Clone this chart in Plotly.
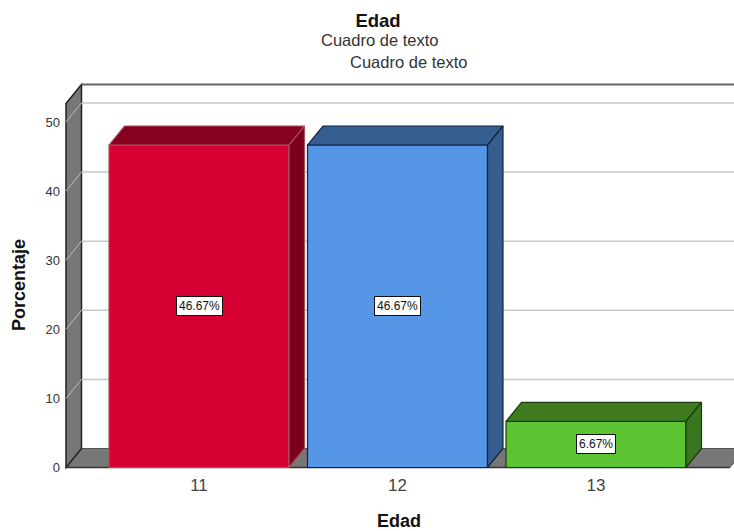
import plotly.graph_objects as go

categories = [11, 12, 13]
values = [46.67, 46.67, 6.67]
labels = ["46.67%", "46.67%", "6.67%"]
y_ticks = [0, 10, 20, 30, 40, 50]

front_colors = ["#D60032", "#5596E6", "#5CC433"]
top_colors = ["#87001E", "#355D90", "#3E7A20"]
side_colors = ["#7C001C", "#355D90", "#3A761F"]
edge_colors = ["#A8505F", "#14233A", "#1B3A0E"]

W, H = 734, 531
PL, PR, PT, PB = 64, 734, 83, 470
X_UNIT = 198.5
Y_UNIT = 6.91
X_ZERO_PX = 199.0   # pixel of category 11
Y_ZERO_PX = 467.5   # pixel of value 0

x_range = [11 + (PL - X_ZERO_PX) / X_UNIT, 11 + (PR - X_ZERO_PX) / X_UNIT]
y_range = [(Y_ZERO_PX - PB) / Y_UNIT, (Y_ZERO_PX - PT) / Y_UNIT]

BAR_W = 180 / X_UNIT
DX = 15.5 / X_UNIT
DY = 19 / Y_UNIT
WALL_X = 11 + (66 - X_ZERO_PX) / X_UNIT
FLOOR_END = 11 + (730 - X_ZERO_PX) / X_UNIT
WALL_TOP = (Y_ZERO_PX - 103.5) / Y_UNIT


def path(points):
    return "M " + " L ".join(f"{a},{b}" for a, b in points)


shapes = []


def bg(points, fill=None, line="#333333", width=1, close=True):
    d = path(points) + (" Z" if close else "")
    shapes.append(dict(type="path", path=d, xref="x", yref="y", layer="below",
                       fillcolor=fill if fill else "rgba(0,0,0,0)",
                       line=dict(color=line, width=width)))


# floor and left wall
bg([(WALL_X, 0), (WALL_X + DX, DY), (FLOOR_END + DX, DY), (FLOOR_END, 0)], "#777777", "#555555")
bg([(WALL_X, 0), (WALL_X + DX, DY), (WALL_X + DX, WALL_TOP + DY), (WALL_X, WALL_TOP)], "#777777", "#222222", 1.5)
# gridlines
for t in y_ticks[1:]:
    bg([(WALL_X, t), (WALL_X + DX, t + DY)], None, "#BDBDBD", 1, close=False)
    bg([(WALL_X + DX, t + DY), (x_range[1], t + DY)], None, "#C8C8C8", 1.5, close=False)
# top of back wall, bottom axis line
bg([(WALL_X + DX, WALL_TOP + DY), (x_range[1], WALL_TOP + DY)], None, "#666666", 2, close=False)
bg([(WALL_X, 0), (FLOOR_END, 0)], None, "#333333", 1.5, close=False)

fig = go.Figure()

fig.add_trace(go.Bar(
    x=categories, y=values, width=BAR_W,
    marker=dict(color=front_colors, line=dict(color=edge_colors, width=1.2)),
    hoverinfo="skip", showlegend=False,
))

for c, v, top, side, edge in zip(categories, values, top_colors, side_colors, edge_colors):
    l, r = c - BAR_W / 2, c + BAR_W / 2
    fig.add_trace(go.Scatter(
        x=[l, l + DX, r + DX, r, l], y=[v, v + DY, v + DY, v, v],
        mode="lines", fill="toself", fillcolor=top, line=dict(color=edge, width=1.2),
        hoverinfo="skip", showlegend=False))
    fig.add_trace(go.Scatter(
        x=[r, r + DX, r + DX, r, r], y=[v, v + DY, DY, 0, v],
        mode="lines", fill="toself", fillcolor=side, line=dict(color=edge, width=1.2),
        hoverinfo="skip", showlegend=False))

annotations = [
    dict(x=c, y=v / 2, text=t, showarrow=False, bgcolor="white", bordercolor="#111111",
         borderwidth=1, borderpad=2, font=dict(family="Liberation Sans", size=12, color="#111111"))
    for c, v, t in zip(categories, values, labels)
]
for px, py in [(379, 39.5), (408, 62)]:
    annotations.append(dict(
        x=(px - PL) / (PR - PL), y=(PB - py) / (PB - PT), xref="paper", yref="paper",
        xanchor="center", yanchor="middle", text="Cuadro de texto", showarrow=False,
        font=dict(family="Liberation Sans", size=16.5, color="#333333")))
annotations.append(dict(
    x=(19 - PL) / (PR - PL), y=(PB - 285) / (PB - PT), xref="paper", yref="paper",
    xanchor="center", yanchor="middle", textangle=-90, text="<b>Porcentaje</b>", showarrow=False,
    font=dict(family="Liberation Sans", size=18, color="#111111")))

fig.update_layout(
    width=W, height=H, margin=dict(l=PL, r=W - PR, t=PT, b=H - PB, pad=0),
    paper_bgcolor="white", plot_bgcolor="white",
    title=dict(text="<b>Edad</b>", x=378 / W, xanchor="center", y=1 - 21 / H, yanchor="middle",
               font=dict(family="Liberation Sans", size=18.5, color="#111111")),
    xaxis=dict(range=x_range, tickvals=categories, ticktext=[str(c) for c in categories],
               showgrid=False, zeroline=False, showline=False, ticks="", ticklabelstandoff=3,
               tickfont=dict(family="Liberation Sans", size=17, color="#444444"),
               title=dict(text="<b>Edad</b>", standoff=22,
                          font=dict(family="Liberation Sans", size=18, color="#111111"))),
    yaxis=dict(range=y_range, tickvals=y_ticks, showgrid=False, zeroline=False, showline=False, ticks="",
               ticklabelstandoff=3,
               tickfont=dict(family="Liberation Sans", size=13, color="#333333")),
    shapes=shapes, annotations=annotations,
)
fig.write_html("out.html", config=dict(displayModeBar=False),
               post_script="document.body.style.margin='0';document.documentElement.style.overflow='hidden';")
